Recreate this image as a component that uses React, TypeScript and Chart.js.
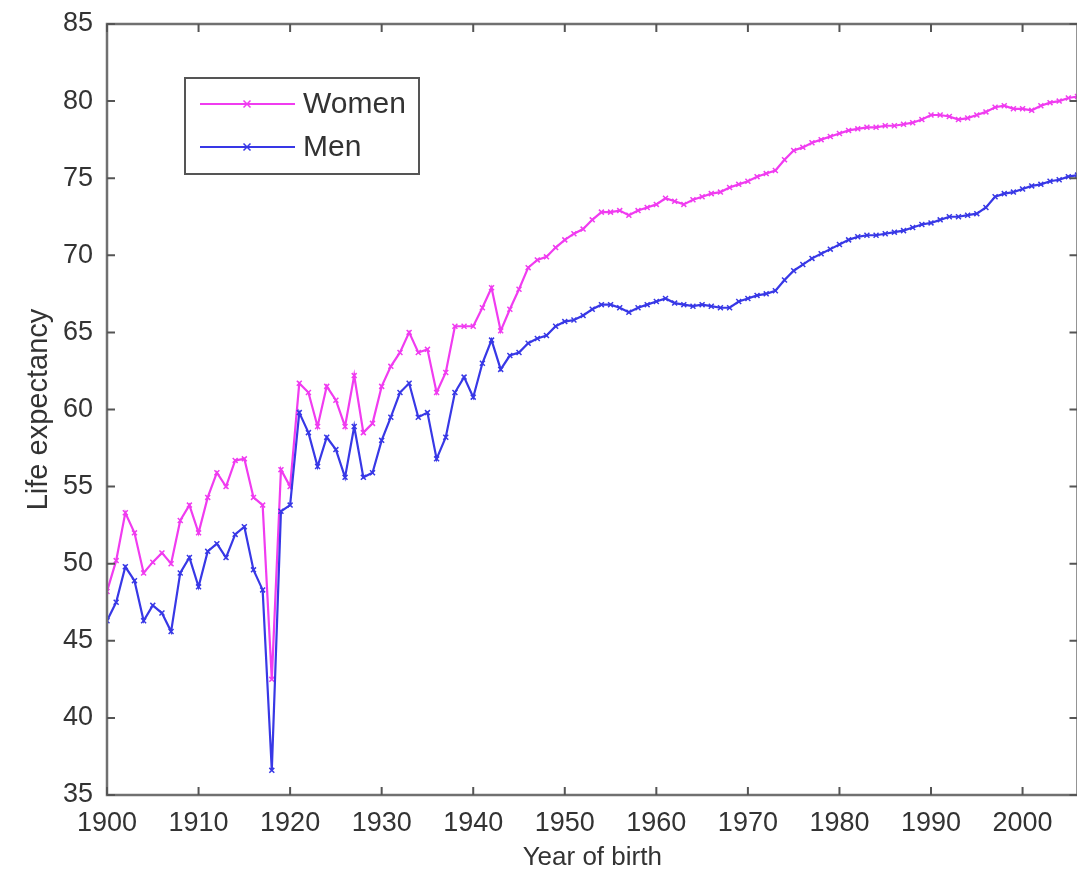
import React, { useEffect, useRef } from "react";
import { Chart, registerables } from "chart.js";

Chart.register(...registerables);

const years = [
  1900, 1901, 1902, 1903, 1904, 1905, 1906, 1907, 1908, 1909,
  1910, 1911, 1912, 1913, 1914, 1915, 1916, 1917, 1918, 1919,
  1920, 1921, 1922, 1923, 1924, 1925, 1926, 1927, 1928, 1929,
  1930, 1931, 1932, 1933, 1934, 1935, 1936, 1937, 1938, 1939,
  1940, 1941, 1942, 1943, 1944, 1945, 1946, 1947, 1948, 1949,
  1950, 1951, 1952, 1953, 1954, 1955, 1956, 1957, 1958, 1959,
  1960, 1961, 1962, 1963, 1964, 1965, 1966, 1967, 1968, 1969,
  1970, 1971, 1972, 1973, 1974, 1975, 1976, 1977, 1978, 1979,
  1980, 1981, 1982, 1983, 1984, 1985, 1986, 1987, 1988, 1989,
  1990, 1991, 1992, 1993, 1994, 1995, 1996, 1997, 1998, 1999,
  2000, 2001, 2002, 2003, 2004, 2005, 2006,
];

const women = [
  48.2, 50.2, 53.3, 52.0, 49.4, 50.1, 50.7, 50.0, 52.8, 53.8,
  52.0, 54.3, 55.9, 55.0, 56.7, 56.8, 54.3, 53.8, 42.5, 56.1,
  55.0, 61.7, 61.1, 58.9, 61.5, 60.6, 58.9, 62.2, 58.5, 59.1,
  61.5, 62.8, 63.7, 65.0, 63.7, 63.9, 61.1, 62.4, 65.4, 65.4,
  65.4, 66.6, 67.9, 65.1, 66.5, 67.8, 69.2, 69.7, 69.9, 70.5,
  71.0, 71.4, 71.7, 72.3, 72.8, 72.8, 72.9, 72.6, 72.9, 73.1,
  73.3, 73.7, 73.5, 73.3, 73.6, 73.8, 74.0, 74.1, 74.4, 74.6,
  74.8, 75.1, 75.3, 75.5, 76.2, 76.8, 77.0, 77.3, 77.5, 77.7,
  77.9, 78.1, 78.2, 78.3, 78.3, 78.4, 78.4, 78.5, 78.6, 78.8,
  79.1, 79.1, 79.0, 78.8, 78.9, 79.1, 79.3, 79.6, 79.7, 79.5,
  79.5, 79.4, 79.7, 79.9, 80.0, 80.2, 80.3,
];

const men = [
  46.3, 47.5, 49.8, 48.9, 46.3, 47.3, 46.8, 45.6, 49.4, 50.4,
  48.5, 50.8, 51.3, 50.4, 51.9, 52.4, 49.6, 48.3, 36.6, 53.4,
  53.8, 59.8, 58.5, 56.3, 58.2, 57.4, 55.6, 58.9, 55.6, 55.9,
  58.0, 59.5, 61.1, 61.7, 59.5, 59.8, 56.8, 58.2, 61.1, 62.1,
  60.8, 63.0, 64.5, 62.6, 63.5, 63.7, 64.3, 64.6, 64.8, 65.4,
  65.7, 65.8, 66.1, 66.5, 66.8, 66.8, 66.6, 66.3, 66.6, 66.8,
  67.0, 67.2, 66.9, 66.8, 66.7, 66.8, 66.7, 66.6, 66.6, 67.0,
  67.2, 67.4, 67.5, 67.7, 68.4, 69.0, 69.4, 69.8, 70.1, 70.4,
  70.7, 71.0, 71.2, 71.3, 71.3, 71.4, 71.5, 71.6, 71.8, 72.0,
  72.1, 72.3, 72.5, 72.5, 72.6, 72.7, 73.1, 73.8, 74.0, 74.1,
  74.3, 74.5, 74.6, 74.8, 74.9, 75.1, 75.2,
];

const xTicks = [1900, 1910, 1920, 1930, 1940, 1950, 1960, 1970, 1980, 1990, 2000];
const yTicks = [35, 40, 45, 50, 55, 60, 65, 70, 75, 80, 85];
const seriesLabels = ["Women", "Men"];
const seriesColors = ["#f03cf0", "#3838e6"];
const xTitle = "Year of birth";
const yTitle = "Life expectancy";

const TEXT = "#333333";
const AXIS = "#707070";
const FONT = "'Liberation Sans', Arial, sans-serif";

const framePlugin = {
  id: "matlabFrame",
  afterDraw(chart: any) {
    const { ctx, chartArea } = chart;
    const { left, right, top, bottom } = chartArea;
    const xs = chart.scales.x;
    const ys = chart.scales.y;
    ctx.save();
    ctx.strokeStyle = AXIS;
    ctx.lineWidth = 2.5;
    ctx.strokeRect(left, top, right - left, bottom - top);
    ctx.strokeStyle = "#555";
    ctx.lineWidth = 2;
    const tl = 8;
    ctx.beginPath();
    xTicks.forEach((v) => {
      const px = xs.getPixelForValue(v);
      ctx.moveTo(px, bottom);
      ctx.lineTo(px, bottom - tl);
      ctx.moveTo(px, top);
      ctx.lineTo(px, top + tl);
    });
    yTicks.forEach((v) => {
      const py = ys.getPixelForValue(v);
      ctx.moveTo(left, py);
      ctx.lineTo(left + tl, py);
      ctx.moveTo(right, py);
      ctx.lineTo(right - tl, py);
    });
    ctx.stroke();

    // legend box
    const lx = 185, ly = 78, lw = 234, lh = 96;
    ctx.fillStyle = "#ffffff";
    ctx.fillRect(lx, ly, lw, lh);
    ctx.strokeStyle = "#555";
    ctx.lineWidth = 2;
    ctx.strokeRect(lx, ly, lw, lh);
    const rows = [104, 147];
    seriesLabels.forEach((label, i) => {
      const y = rows[i];
      ctx.strokeStyle = seriesColors[i];
      ctx.lineWidth = 2;
      ctx.beginPath();
      ctx.moveTo(200, y);
      ctx.lineTo(295, y);
      ctx.stroke();
      ctx.lineWidth = 1.5;
      ctx.beginPath();
      const r = 3.5;
      ctx.moveTo(247 - r, y - r);
      ctx.lineTo(247 + r, y + r);
      ctx.moveTo(247 - r, y + r);
      ctx.lineTo(247 + r, y - r);
      ctx.stroke();
      ctx.fillStyle = TEXT;
      ctx.font = `30px ${FONT}`;
      ctx.textBaseline = "middle";
      ctx.textAlign = "left";
      ctx.fillText(label, 303, y + 1);
    });
    ctx.restore();
  },
};

export default function App() {
  const ref = useRef<HTMLCanvasElement | null>(null);

  useEffect(() => {
    if (!ref.current) return;
    const datasets = seriesLabels.map((label, i) => {
      const vals = i === 0 ? women : men;
      return {
        label,
        data: years.map((yr, k) => ({ x: yr, y: vals[k] })),
        borderColor: seriesColors[i],
        backgroundColor: seriesColors[i],
        borderWidth: 2.2,
        pointStyle: "crossRot",
        pointRadius: 3.5,
        pointBorderWidth: 1.5,
        pointBorderColor: seriesColors[i],
        fill: false,
        tension: 0,
        order: i === 0 ? 1 : 0,
      };
    });
    const chart = new Chart(ref.current, {
      type: "line",
      data: { datasets },
      options: {
        responsive: false,
        animation: false,
        layout: { padding: { top: 24, right: 0, left: 0, bottom: 0 } },
        plugins: {
          legend: { display: false },
          tooltip: { enabled: false },
        },
        scales: {
          x: {
            type: "linear",
            min: 1900,
            max: 2006,
            afterBuildTicks: (s: any) => {
              s.ticks = xTicks.map((v) => ({ value: v }));
            },
            afterFit: (s: any) => {
              s.height = 81;
              s.paddingRight = 0;
              s.paddingLeft = 0;
            },
            grid: { display: false, drawTicks: false },
            border: { display: false },
            ticks: {
              padding: 12,
              color: TEXT,
              font: { family: FONT, size: 27 },
              maxRotation: 0,
              autoSkip: false,
              callback: (v: any) => String(v),
            },
            title: {
              display: true,
              text: xTitle,
              color: TEXT,
              font: { family: FONT, size: 26, lineHeight: 1.0 },
              padding: { top: 0, bottom: 5 },
            },
          },
          y: {
            type: "linear",
            min: 35,
            max: 85,
            afterBuildTicks: (s: any) => {
              s.ticks = yTicks.map((v) => ({ value: v }));
            },
            afterFit: (s: any) => {
              s.width = 107;
              s.paddingTop = 0;
              s.paddingBottom = 0;
            },
            grid: { display: false, drawTicks: false },
            border: { display: false },
            ticks: {
              padding: 14,
              color: TEXT,
              font: { family: FONT, size: 27 },
              autoSkip: false,
              callback: (v: any) => String(v),
            },
            title: {
              display: true,
              text: yTitle,
              color: TEXT,
              font: { family: FONT, size: 29, lineHeight: 1.0 },
              padding: { top: 24, bottom: 0 },
            },
          },
        },
      },
      plugins: [framePlugin],
    } as any);
    return () => chart.destroy();
  }, []);

  return (
    <div
      style={{
        position: "fixed",
        left: 0,
        top: 0,
        width: 1077,
        height: 876,
        overflow: "hidden",
        background: "#fff",
      }}
    >
      <canvas ref={ref} width={1083} height={876} />
    </div>
  );
}
